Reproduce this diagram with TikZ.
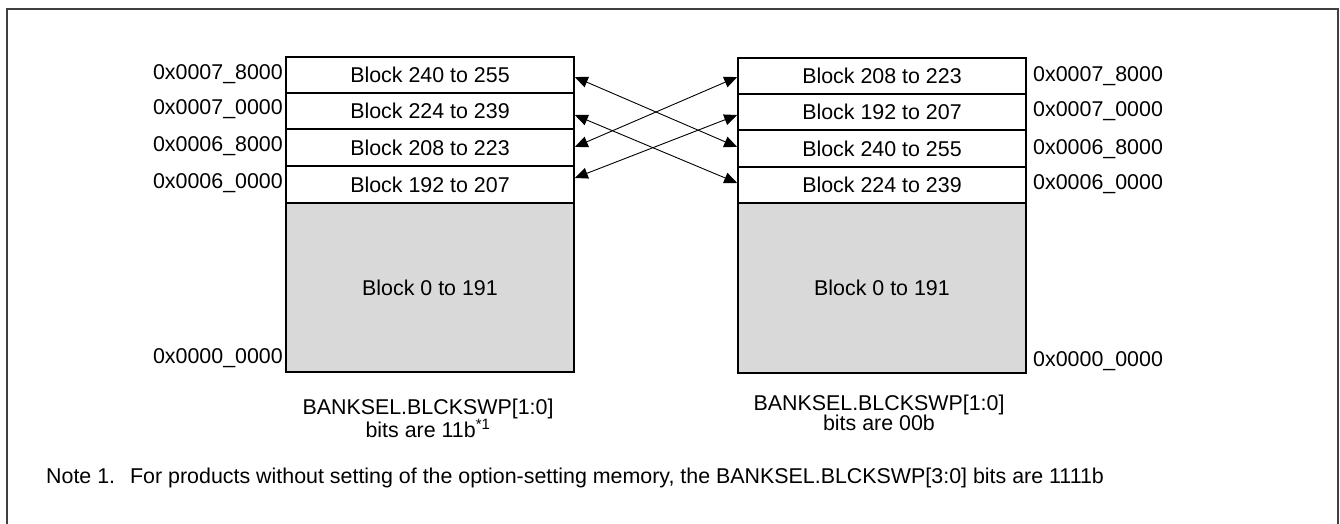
\documentclass[tikz,border=0pt]{standalone}
\usepackage{fontspec}
\setmainfont{Liberation Sans}
\usetikzlibrary{arrows.meta}
\definecolor{framegray}{HTML}{404040}
\definecolor{blockgray}{HTML}{D9D9D9}
\tikzset{
  txt/.style={font=\fontsize{21.4}{20}\selectfont},
  blk/.style={txt, draw=black, line width=1.6pt, fill=white, minimum width=288pt, inner sep=0pt},
  lowblk/.style={blk, fill=blockgray},
  addrL/.style={txt, anchor=east, inner sep=0pt},
  addrR/.style={txt, anchor=west, inner sep=0pt},
  capt/.style={txt, align=center, inner sep=0pt},
  swap/.style={{Triangle[length=13pt,width=11pt]}-{Triangle[length=13pt,width=11pt]}, line width=0.9pt},
}
\begin{document}
\begin{tikzpicture}[x=1pt, y=-1pt]
\useasboundingbox (0,0) rectangle (1340,524);
\clip (0,0) rectangle (1340,524);
\fill[white] (0,0) rectangle (1340,524);
\draw[framegray, line width=2pt] (7,9) rectangle (1338,560);

% left stack
\node[blk, minimum height=36pt] (L1) at (430,75) {Block 240 to 255};
\node[blk, minimum height=36pt] (L2) at (430,111) {Block 224 to 239};
\node[blk, minimum height=37pt] (L3) at (430,147.5) {Block 208 to 223};
\node[blk, minimum height=37pt] (L4) at (430,184.5) {Block 192 to 207};
\node[lowblk, minimum height=169pt] (L0) at (430,287.5) {Block 0 to 191};

% right stack
\node[blk, minimum height=36pt] (R1) at (882,76) {Block 208 to 223};
\node[blk, minimum height=36pt] (R2) at (882,112) {Block 192 to 207};
\node[blk, minimum height=37pt] (R3) at (882,148.5) {Block 240 to 255};
\node[blk, minimum height=36pt] (R4) at (882,185) {Block 224 to 239};
\node[lowblk, minimum height=170pt] (R0) at (882,288) {Block 0 to 191};

% left addresses
\node[addrL] (la1) at (283,74) {0x0007\_8000};
\node[addrL] (la2) at (283,109) {0x0007\_0000};
\node[addrL] (la3) at (283,146) {0x0006\_8000};
\node[addrL] (la4) at (283,183) {0x0006\_0000};
\node[addrL] (la0) at (283,358) {0x0000\_0000};

% right addresses
\node[addrR] (ra1) at (1033,76) {0x0007\_8000};
\node[addrR] (ra2) at (1033,111) {0x0007\_0000};
\node[addrR] (ra3) at (1033,149) {0x0006\_8000};
\node[addrR] (ra4) at (1033,184) {0x0006\_0000};
\node[addrR] (ra0) at (1033,361) {0x0000\_0000};

% swap arrows
\draw[swap] ([yshift=-2pt]L1.east) -- ([yshift=1.5pt]R3.west);
\draw[swap] ([yshift=-4pt]L2.east) -- ([yshift=2pt]R4.west);
\draw[swap] ([yshift=0.5pt]L3.east) -- ([yshift=-1pt]R1.west);
\draw[swap] ([yshift=6.5pt]L4.east) -- ([yshift=-3pt]R2.west);

% captions
\node[capt] (lc) at (428,418) {BANKSEL.BLCKSWP[1:0]\\bits are 11b\textsuperscript{*1}};
\node[capt] (rc) at (879,413) {BANKSEL.BLCKSWP[1:0]\\bits are 00b};

% note
\node[txt, anchor=west, inner sep=0pt] (note) at (46,478)
  {Note 1.\hspace{15pt}For products without setting of the option-setting memory, the BANKSEL.BLCKSWP[3:0] bits are 1111b};
\end{tikzpicture}
\end{document}
